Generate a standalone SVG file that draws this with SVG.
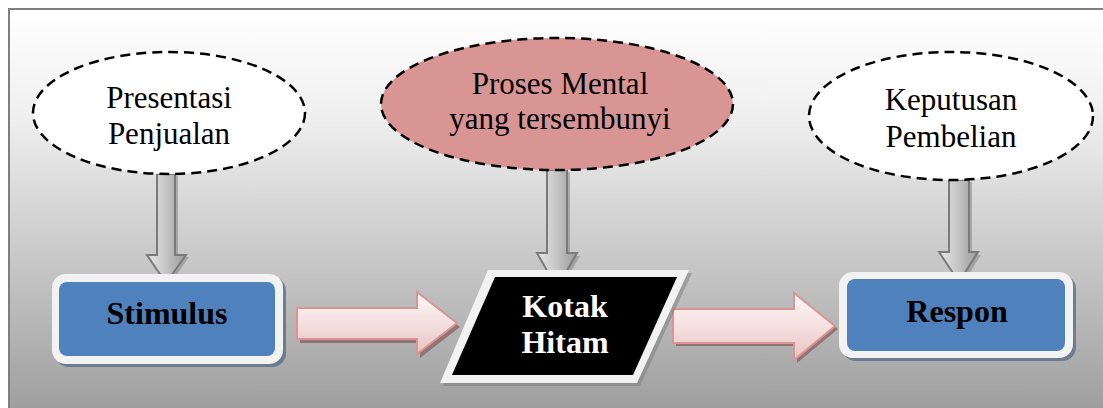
<svg xmlns="http://www.w3.org/2000/svg" width="1103" height="408" viewBox="0 0 1103 408">
  <defs>
    <linearGradient id="bg" x1="0" y1="0" x2="0" y2="1">
      <stop offset="0" stop-color="#ffffff"/>
      <stop offset="0.25" stop-color="#f0f0f0"/>
      <stop offset="1" stop-color="#999999"/>
    </linearGradient>
    <linearGradient id="grayArrow" x1="0" y1="0" x2="1" y2="0">
      <stop offset="0" stop-color="#e6e6e6"/>
      <stop offset="0.5" stop-color="#c4c4c4"/>
      <stop offset="1" stop-color="#9a9a9a"/>
    </linearGradient>
    <linearGradient id="pinkArrow" x1="0" y1="0" x2="0" y2="1">
      <stop offset="0" stop-color="#fdf6f6"/>
      <stop offset="0.5" stop-color="#f5e0e0"/>
      <stop offset="1" stop-color="#e9c2c2"/>
    </linearGradient>
  </defs>
  <style>
    .txt { font-family: "Liberation Serif", "Times New Roman", serif; font-size: 31px; fill: #000; text-anchor: middle; }
    .bold { font-weight: bold; font-size: 32px; }
    .white { fill: #ffffff; }
    .oval { stroke: #000; stroke-width: 2.5; stroke-dasharray: 10 6; }
    .gArrow { fill: url(#grayArrow); stroke: #7a7a7a; stroke-width: 2; }
    .gShadow { fill: #8c8c8c; opacity: 0.6; }
    .pArrow { fill: url(#pinkArrow); stroke: #d99594; stroke-width: 2; }
    .pShadow { fill: #8e6a6a; opacity: 0.85; }
    .boxOuter { fill: #f2f2f2; }
    .boxShadow { fill: #5d6f86; opacity: 0.8; }
    .boxInner { fill: #4f81bd; }
  </style>

  <!-- background panel -->
  <rect x="9" y="9" width="1110" height="420" fill="url(#bg)" stroke="#7f7f7f" stroke-width="2"/>

  <!-- connectors -->
  <g id="connectors">
    <!-- down arrows from the ovals -->
    <g id="arrow-presentasi-stimulus">
      <path class="gShadow" d="M160,176 H178 V257 H189 L169,286 L150,257 H160 Z"/>
      <path class="gArrow" d="M157,174 H175 V255 H186 L166,283 L147,255 H157 Z"/>
    </g>
    <g id="arrow-proses-kotak">
      <path class="gShadow" d="M550,172 H570 V256 H580 L560,291 L540,256 H550 Z"/>
      <path class="gArrow" d="M547,170 H567 V253 H577 L557,288 L537,253 H547 Z"/>
    </g>
    <g id="arrow-keputusan-respon">
      <path class="gShadow" d="M952,182 H972 V255 H981 L962,285 L942,255 H952 Z"/>
      <path class="gArrow" d="M949,180 H969 V252 H978 L959,282 L939,252 H949 Z"/>
    </g>
    <!-- horizontal arrows -->
    <g id="arrow-stimulus-kotak">
      <path class="pShadow" d="M300,311 H420 V296 L460,327 L420,358 V343 H300 Z"/>
      <path class="pArrow" d="M297,308 H417 V292 L457,323 L417,354 V339 H297 Z"/>
    </g>
    <g id="arrow-kotak-respon">
      <path class="pShadow" d="M676,312 H797 V296 L838,329 L797,363 V346 H676 Z"/>
      <path class="pArrow" d="M673,309 H794 V293 L835,326 L794,360 V343 H673 Z"/>
    </g>
  </g>

  <!-- top row: ovals -->
  <g id="node-presentasi">
    <ellipse class="oval" cx="169" cy="113" rx="136" ry="61" fill="#ffffff"/>
    <text class="txt" x="169" y="108">Presentasi</text>
    <text class="txt" x="169" y="144">Penjualan</text>
  </g>
  <g id="node-proses">
    <ellipse class="oval" cx="557" cy="104" rx="176" ry="66" fill="#d99594"/>
    <text class="txt" x="560" y="94">Proses Mental</text>
    <text class="txt" x="560" y="129">yang tersembunyi</text>
  </g>
  <g id="node-keputusan">
    <ellipse class="oval" cx="951" cy="116" rx="142" ry="64" fill="#ffffff"/>
    <text class="txt" x="951" y="110">Keputusan</text>
    <text class="txt" x="951" y="147">Pembelian</text>
  </g>

  <!-- bottom row -->
  <g id="node-stimulus">
    <rect class="boxShadow" x="55" y="277" width="231" height="90" rx="14"/>
    <rect class="boxOuter" x="52" y="274" width="231" height="90" rx="14"/>
    <rect class="boxInner" x="59" y="282" width="216" height="74" rx="8"/>
    <text class="txt bold" x="167" y="324">Stimulus</text>
  </g>
  <g id="node-kotak">
    <polygon points="491,273 692,273 640,386 443,386" fill="#7a7a7a" opacity="0.5"/>
    <polygon points="488,270 689,270 637,383 440,383" fill="#f2f2f2"/>
    <polygon points="495,277 677,277 633,375 452,375" fill="#000000"/>
    <text class="txt bold white" x="565" y="317">Kotak</text>
    <text class="txt bold white" x="565" y="353">Hitam</text>
  </g>
  <g id="node-respon">
    <rect class="boxShadow" x="842" y="275" width="234" height="86" rx="14"/>
    <rect class="boxOuter" x="839" y="272" width="234" height="86" rx="14"/>
    <rect class="boxInner" x="847" y="279" width="218" height="72" rx="8"/>
    <text class="txt bold" x="957" y="322">Respon</text>
  </g>
</svg>
